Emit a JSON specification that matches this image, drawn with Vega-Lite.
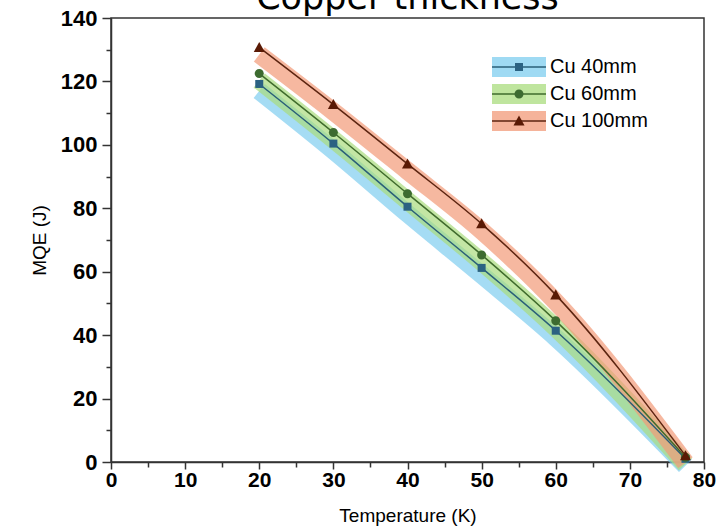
{
  "$schema": "https://vega.github.io/schema/vega-lite/v6.json",
  "width": 593,
  "height": 444,
  "autosize": {"type": "none"},
  "padding": {"left": 111, "top": 18, "right": 24, "bottom": 69},
  "background": "white",
  "title": {"text": "Copper thickness", "fontSize": 35, "font": "DejaVu Sans", "fontWeight": "normal", "color": "black", "anchor": "middle", "baseline": "alphabetic", "offset": 0, "dy": 37},
  "config": {
    "view": {"stroke": "#333", "strokeWidth": 1.5},
    "axis": {"grid": false, "labelFlush": false, "domainColor": "#333", "domainWidth": 1.5, "tickColor": "#333", "tickWidth": 1.5, "labelColor": "black", "labelFont": "Liberation Sans", "labelFontWeight": "bold", "labelFontSize": 21, "titleFont": "Liberation Sans", "titleFontWeight": "normal", "titleFontSize": 19, "titleColor": "black"},
    "legend": {"title": null, "orient": "none", "legendX": 381, "legendY": 38, "padding": 0, "rowPadding": 5, "clipHeight": 22, "symbolOffset": 16, "labelOffset": 20, "labelFont": "Liberation Sans", "labelFontSize": 20, "labelColor": "black"}
  },
  "data": {"values": [
    {"T": 20, "MQE": 119.2, "series": "Cu 40mm"},
    {"T": 30, "MQE": 100.4, "series": "Cu 40mm"},
    {"T": 40, "MQE": 80.5, "series": "Cu 40mm"},
    {"T": 50, "MQE": 61.2, "series": "Cu 40mm"},
    {"T": 60, "MQE": 41.4, "series": "Cu 40mm"},
    {"T": 77.5, "MQE": 1, "series": "Cu 40mm"},
    {"T": 20, "MQE": 122.5, "series": "Cu 60mm"},
    {"T": 30, "MQE": 103.9, "series": "Cu 60mm"},
    {"T": 40, "MQE": 84.6, "series": "Cu 60mm"},
    {"T": 50, "MQE": 65.3, "series": "Cu 60mm"},
    {"T": 60, "MQE": 44.5, "series": "Cu 60mm"},
    {"T": 77.5, "MQE": 1.5, "series": "Cu 60mm"},
    {"T": 20, "MQE": 130.7, "series": "Cu 100mm"},
    {"T": 30, "MQE": 112.7, "series": "Cu 100mm"},
    {"T": 40, "MQE": 94, "series": "Cu 100mm"},
    {"T": 50, "MQE": 75.1, "series": "Cu 100mm"},
    {"T": 60, "MQE": 52.7, "series": "Cu 100mm"},
    {"T": 77.5, "MQE": 2, "series": "Cu 100mm"}
  ]},
  "encoding": {
    "x": {"field": "T", "type": "quantitative", "scale": {"domain": [0, 80], "nice": false},
      "axis": {"title": "Temperature (K)", "values": [0,5,10,15,20,25,30,35,40,45,50,55,60,65,70,75,80], "labelExpr": "datum.value % 10 === 0 ? datum.label : ''", "tickSize": {"condition": {"test": "datum.value % 10 === 0", "value": 7}, "value": 5}, "labelPadding": 0, "titlePadding": 16}},
    "y": {"field": "MQE", "type": "quantitative", "scale": {"domain": [0, 140], "nice": false},
      "axis": {"title": "MQE (J)", "labelFontSize": 22, "values": [0,10,20,30,40,50,60,70,80,90,100,110,120,130,140], "labelExpr": "datum.value % 20 === 0 ? datum.label : ''", "tickSize": {"condition": {"test": "datum.value % 20 === 0", "value": 9}, "value": 5}, "labelPadding": 5, "titlePadding": 11}}
  },
  "layer": [
    {
      "mark": {"type": "point", "filled": true, "opacity": 0, "size": 484},
      "encoding": {"color": {"field": "series", "type": "nominal", "scale": {"domain": ["Cu 40mm", "Cu 60mm", "Cu 100mm"], "range": ["#7fcdef", "#a9dc7d", "#f29a78"]},
        "legend": {"symbolType": "M-2.4545,-0.909H2.4545V0.909H-2.4545Z", "symbolSize": 484, "symbolStrokeWidth": 0, "symbolOpacity": 0.75}}}
    },
    {
      "mark": {"type": "line", "strokeWidth": 18, "opacity": 0.7, "strokeCap": "butt", "yOffset": 7, "interpolate": "monotone"},
      "encoding": {"color": {"field": "series", "type": "nominal", "scale": {"domain": ["Cu 40mm", "Cu 60mm", "Cu 100mm"], "range": ["#7fcdef", "#a9dc7d", "#f29a78"]}, "legend": null}}
    },
    {
      "mark": {"type": "line", "strokeWidth": 1.5, "interpolate": "monotone"},
      "encoding": {"color": {"field": "series", "type": "nominal", "scale": {"domain": ["Cu 40mm", "Cu 60mm", "Cu 100mm"], "range": ["#2a5f78", "#3f6b2c", "#5c2410"]},
        "legend": {"symbolType": "M-2.634,0H2.634", "symbolSize": 420.25, "symbolStrokeWidth": 1.5, "symbolOpacity": 1, "labelExpr": "''"}}}
    },
    {
      "mark": {"type": "point", "filled": true, "size": 484, "opacity": 1},
      "encoding": {
        "color": {"field": "series", "type": "nominal", "scale": {"domain": ["Cu 40mm", "Cu 60mm", "Cu 100mm"], "range": ["#2b6282", "#3d6b30", "#5a1a05"]},
          "legend": {"symbolSize": 484, "symbolStrokeWidth": 0, "symbolOpacity": 1, "labelExpr": "''"}},
        "shape": {"field": "series", "type": "nominal", "scale": {"domain": ["Cu 40mm", "Cu 60mm", "Cu 100mm"], "range": ["M-0.364,-0.364H0.364V0.364H-0.364Z", "M-0.41,0A0.41,0.41 0 1 0 0.41,0A0.41,0.41 0 1 0 -0.41,0Z", "M0,-0.5L0.5,0.41H-0.5Z"]},
          "legend": {"symbolSize": 484, "symbolStrokeWidth": 0, "symbolOpacity": 1, "labelExpr": "''"}}
      }
    }
  ],
  "resolve": {"scale": {"color": "independent", "shape": "independent"}, "legend": {"color": "independent", "shape": "independent"}}
}
